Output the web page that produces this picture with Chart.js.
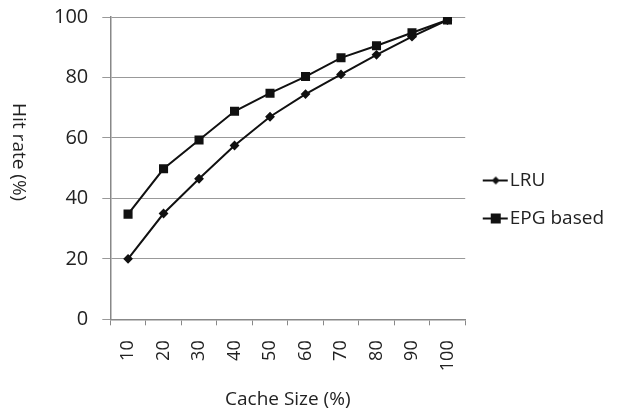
<!DOCTYPE html>
<html>
<head>
<meta charset="utf-8">
<script src="https://cdn.jsdelivr.net/npm/chart.js@4.4.0/dist/chart.umd.min.js"></script>
<style>
  html, body { margin: 0; padding: 0; background: #fff; }
  #wrap { width: 618px; height: 411px; position: relative; }
</style>
</head>
<body>
<div id="wrap"><canvas id="hitChart"></canvas></div>
<script>
const cacheSizes = ['10', '20', '30', '40', '50', '60', '70', '80', '90', '100'];
const lruHits = [20, 35, 46.5, 57.5, 67, 74.5, 81, 87.5, 93.5, 99];
const epgHits = [34.8, 49.8, 59.3, 68.8, 74.8, 80.3, 86.5, 90.5, 94.8, 99];
const yTicks = [0, 20, 40, 60, 80, 100];

const FONT = "'Open Sans', 'DejaVu Sans', sans-serif";

// legend icon: short line with the series marker, pushed to the right of the image
function legendIcon(style) {
    const c = document.createElement('canvas');
    c.width = 33; c.height = 14;
    const g = c.getContext('2d');
    g.strokeStyle = '#111'; g.fillStyle = '#111'; g.lineWidth = 2;
    g.beginPath(); g.moveTo(7, 7); g.lineTo(32, 7); g.stroke();
    if (style === 'rect') {
        g.fillRect(15, 2, 10, 10);
    } else {
        g.beginPath();
        g.moveTo(20, 3); g.lineTo(24, 7); g.lineTo(20, 11); g.lineTo(16, 7);
        g.closePath(); g.fill();
    }
    return c;
}

// y title reads top to bottom, like the original
const yTitle = {
    id: 'yTitle',
    afterLayout(chart) {
        // lift the legend a little
        if (chart.legend) { chart.legend.top -= 6; chart.legend.bottom -= 6; }
    },
    afterDraw(chart) {
        const ctx = chart.ctx;
        const area = chart.chartArea;
        ctx.save();
        ctx.translate(18, (area.top + area.bottom) / 2 - 16);
        ctx.rotate(Math.PI / 2);
        ctx.font = '19px ' + FONT;
        ctx.fillStyle = '#222';
        ctx.textAlign = 'center';
        ctx.textBaseline = 'middle';
        ctx.fillText('Hit rate (%)', 0, 0);
        ctx.restore();
    }
};

const ctx = document.getElementById('hitChart').getContext('2d');
const hitChart = new Chart(ctx, {
    type: 'line',
    data: {
        labels: cacheSizes,
        datasets: [
            {
                label: 'LRU',
                data: lruHits,
                borderColor: '#111',
                backgroundColor: '#111',
                borderWidth: 2,
                pointStyle: 'rectRot',
                pointRadius: 3.5,
                tension: 0,
            },
            {
                label: 'EPG based',
                data: epgHits,
                borderColor: '#111',
                backgroundColor: '#111',
                borderWidth: 2,
                pointStyle: 'rect',
                pointRadius: 5,
                tension: 0,
            },
        ],
    },
    options: {
        responsive: true,
        maintainAspectRatio: false,
        animation: false,
        layout: { padding: { left: 40, top: 0, right: 4, bottom: 0 } },
        scales: {
            x: {
                offset: true,
                grid: { offset: true, drawOnChartArea: false, drawTicks: true, tickLength: 6, color: '#888' },
                border: { color: '#888', width: 1.5 },
                ticks: {
                    color: '#222',
                    font: { family: FONT, size: 18 },
                    minRotation: 90,
                    maxRotation: 90,
                    padding: 15,
                },
                title: {
                    display: true,
                    text: 'Cache Size (%)',
                    color: '#222',
                    font: { family: FONT, size: 19 },
                    padding: { top: 2, bottom: 0 },
                },
            },
            y: {
                min: 0,
                max: 100,
                afterBuildTicks(axis) { axis.ticks = yTicks.map(v => ({ value: v })); },
                // the label padding also pads the top; keep the top edge where the original has it
                afterFit(axis) { axis.paddingTop = 17; },
                grid: { color: '#999', tickLength: 8 },
                border: { color: '#888', width: 1.5 },
                ticks: {
                    color: '#222',
                    font: { family: FONT, size: 20 },
                    padding: 14,
                },
            },
        },
        plugins: {
            tooltip: { enabled: false },
            legend: {
                position: 'right',
                maxWidth: 300,
                labels: {
                    color: '#222',
                    font: { family: FONT, size: 19 },
                    usePointStyle: true,
                    pointStyleWidth: 16,
                    padding: 19,
                    generateLabels(chart) {
                        return chart.data.datasets.map((ds, i) => ({
                            text: ds.label,
                            fontColor: '#222',
                            pointStyle: legendIcon(ds.pointStyle),
                            datasetIndex: i,
                            lineWidth: 0,
                            strokeStyle: 'transparent',
                            fillStyle: 'transparent',
                        }));
                    },
                },
            },
        },
    },
    plugins: [yTitle],
});
</script>
</body>
</html>
